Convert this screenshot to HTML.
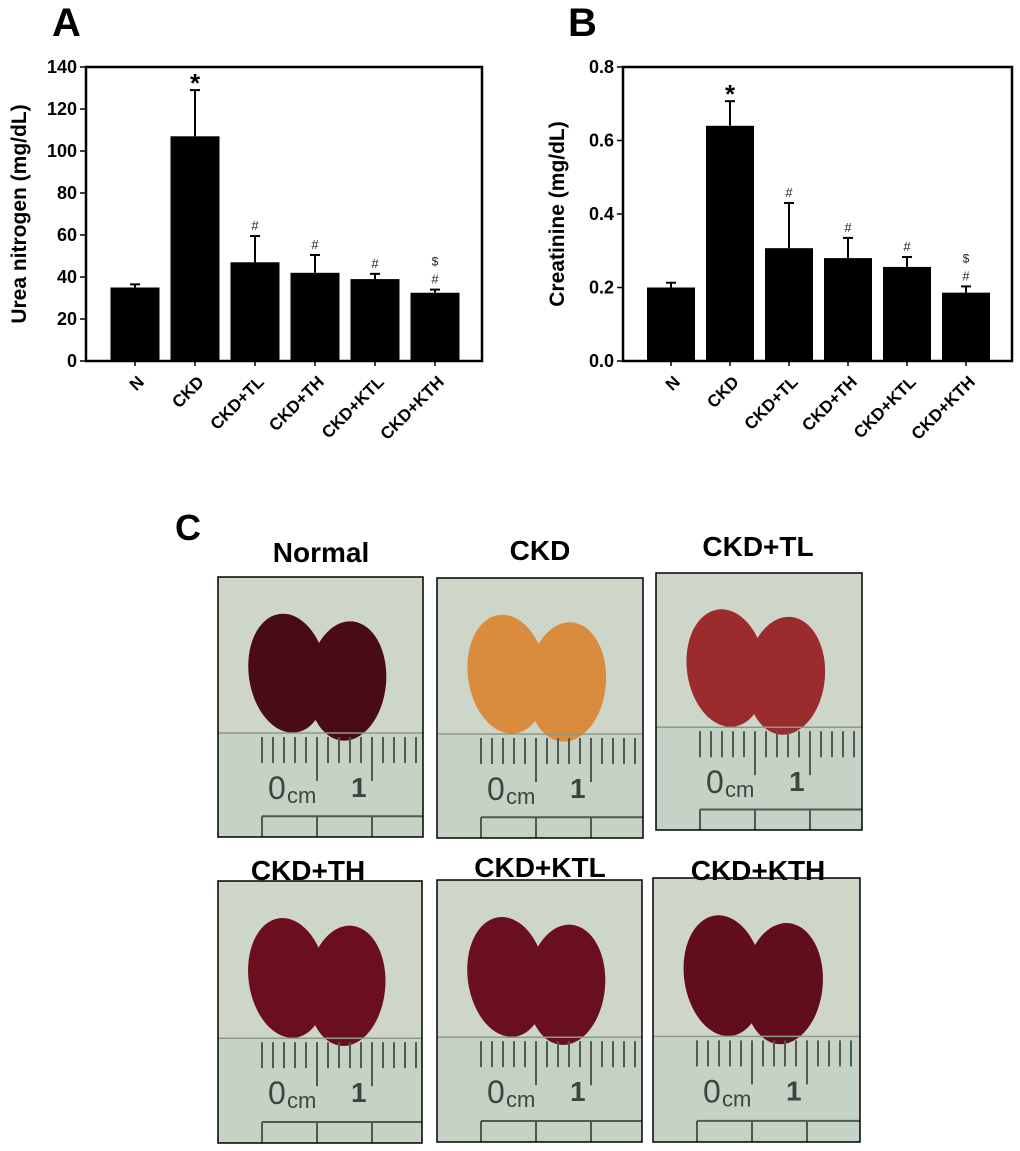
<!DOCTYPE html>
<html><head><meta charset="utf-8">
<style>
html,body{margin:0;padding:0;background:#fff;}
svg{display:block;font-family:"Liberation Sans",Arial,sans-serif;}
</style></head>
<body>
<svg id="fig" width="1020" height="1151" viewBox="0 0 1020 1151" xmlns="http://www.w3.org/2000/svg">
<rect width="1020" height="1151" fill="#fff"/>
<text x="52" y="36" font-size="40" font-weight="bold">A</text>
<text x="568" y="36" font-size="40" font-weight="bold">B</text>
<text x="175" y="540" font-size="36" font-weight="bold">C</text>
<g id="chartA"></g>
<g id="chartB"></g>
<g id="photos"></g>
</svg>
<script>
const categories = ["N","CKD","CKD+TL","CKD+TH","CKD+KTL","CKD+KTH"];
const ureaValues = [35,107,47,42,39,32.5];
const ureaErrTop = [36.5,129,59.5,50.5,41.5,34];
const ureaMarks = ["","*","#","#","#","$#"];
const ureaTicks = [0,20,40,60,80,100,120,140];
const creatValues = [0.2,0.64,0.307,0.28,0.256,0.186];
const creatErrTop = [0.213,0.707,0.43,0.335,0.283,0.203];
const creatMarks = ["","*","#","#","#","$#"];
const creatTicks = ["0.0","0.2","0.4","0.6","0.8"];
const photoTitles = ["Normal","CKD","CKD+TL","CKD+TH","CKD+KTL","CKD+KTH"];
const kidneyColors = ["#4a0b18","#d98b3e","#9c2b2e","#6b0e1e","#6a0f1f","#620d1c"];

const NS="http://www.w3.org/2000/svg";
function mk(tag,attrs,parent){const e=document.createElementNS(NS,tag);for(const k in attrs)e.setAttribute(k,attrs[k]);parent.appendChild(e);return e;}

function drawChart(g,cfg){
  const {x0,x1,y0,y1,max,values,errs,marks,ticks,title,first,step,bw}=cfg;
  const ys=v=>y0-(v/max)*(y0-y1);
  const xs=i=>first+i*step;
  values.forEach((v,i)=>{
    const ex=mk('line',{x1:xs(i),x2:xs(i),y1:ys(v),y2:ys(errs[i]),stroke:'#000','stroke-width':2},g);
    
    
    const cap=mk('line',{x1:xs(i)-5,x2:xs(i)+5,y1:ys(errs[i]),y2:ys(errs[i]),stroke:'#000','stroke-width':2},g);
    
    
    const b=mk('rect',{x:xs(i)-bw/2,y:ys(v),width:bw,height:y0-ys(v),fill:'#000'},g);
    
    
    const m=marks[i];
    if(m==="*"){const t=mk('text',{x:xs(i),y:ys(errs[i])+2,'font-size':26,'font-weight':'bold','text-anchor':'middle'},g);t.textContent='*';}
    else if(m==="#"){const t=mk('text',{x:xs(i),y:ys(errs[i])-6,'font-size':13,'text-anchor':'middle',fill:'#222'},g);t.textContent='#';}
    else if(m==="$#"){const t=mk('text',{x:xs(i),y:ys(errs[i])-6,'font-size':13,'text-anchor':'middle',fill:'#222'},g);t.textContent='#';
      const t2=mk('text',{x:xs(i),y:ys(errs[i])-24,'font-size':12,'text-anchor':'middle',fill:'#222'},g);t2.textContent='$';}
    const tk=mk('line',{x1:xs(i),x2:xs(i),y1:y0,y2:y0+5,stroke:'#000','stroke-width':1.5},g);
    
    
    const lab=mk('text',{x:0,y:0,'font-size':17,'font-weight':'bold','text-anchor':'end',transform:`translate(${xs(i)+10},${y0+22}) rotate(-45)`},g);
    lab.textContent=categories[i];
    
    
  });
  const fr=mk('rect',{x:x0,y:y1,width:x1-x0,height:y0-y1,fill:'none',stroke:'#000','stroke-width':2.5},g);
  
  
  ticks.forEach(t=>{
    const v=parseFloat(t);
    const l=mk('line',{x1:x0-6,x2:x0,y1:ys(v),y2:ys(v),stroke:'#000','stroke-width':1.5},g);
    
    
    const tx=mk('text',{x:x0-9,y:ys(v)+6,'font-size':18,'font-weight':'bold','text-anchor':'end'},g);
    tx.textContent=String(t);
    
    
  });
  const tt=mk('text',{x:0,y:0,'font-size':21,'font-weight':'bold','text-anchor':'middle',transform:`translate(${cfg.titleX},${(y0+y1)/2}) rotate(-90)`},g);
  tt.textContent=title;
  
  
}
drawChart(document.getElementById('chartA'),{x0:86,x1:482,y0:361,y1:67,max:140,values:ureaValues,errs:ureaErrTop,marks:ureaMarks,ticks:ureaTicks,title:"Urea nitrogen (mg/dL)",first:135,step:60,bw:49,titleX:26});
drawChart(document.getElementById('chartB'),{x0:623,x1:1012,y0:361,y1:67,max:0.8,values:creatValues,errs:creatErrTop,marks:creatMarks,ticks:creatTicks,title:"Creatinine (mg/dL)",first:671,step:59,bw:48,titleX:564});

const panelPos=[[218,577,205,260],[437,578,206,260],[656,573,206,257],[218,881,204,262],[437,880,205,262],[653,878,207,264]];
const titlePos=[[321,562],[540,560],[758,556],[308,880],[540,877],[758,880]];
const pg=document.getElementById('photos');
photoTitles.forEach((name,i)=>{
  const [px,py,w,h]=panelPos[i];
  const g=mk('g',{transform:`translate(${px},${py})`},pg);
  
  
  mk('rect',{x:0,y:0,width:w,height:h,fill:'#cdd6c9'},g);
  mk('rect',{x:0,y:h*0.6,width:w,height:h*0.4,fill:'#c6d2c6'},g);
  const c=kidneyColors[i];
  const k1=mk('ellipse',{cx:w*0.34,cy:h*0.37,rx:w*0.19,ry:h*0.23,fill:c,transform:`rotate(-8 ${w*0.34} ${h*0.37})`},g);
  
  
  const k2=mk('ellipse',{cx:w*0.63,cy:h*0.4,rx:w*0.19,ry:h*0.23,fill:c,transform:`rotate(5 ${w*0.63} ${h*0.4})`},g);
  
  
  const ry=h*0.6;
  mk('line',{x1:0,x2:w,y1:ry,y2:ry,stroke:'#8c9a8c','stroke-width':1.5},g);
  for(let x=44;x<w;x+=11){
    const big=(x===99||x===154);
    mk('line',{x1:x,x2:x,y1:ry+4,y2:big?ry+48:ry+30,stroke:'#4f5a50','stroke-width':2},g);
  }
  const t=mk('text',{x:50,y:ry+66,'font-size':32,fill:'#3c463d'},g);t.textContent='0';
  
  
  const t2=mk('text',{x:69,y:ry+70,'font-size':22,fill:'#3c463d'},g);t2.textContent='cm';
  
  
  const t3=mk('text',{x:133,y:ry+64,'font-size':28,'font-weight':'bold',fill:'#3c463d'},g);t3.textContent='1';
  
  
  mk('line',{x1:44,x2:w,y1:h*0.92,y2:h*0.92,stroke:'#4f5a50','stroke-width':2},g);
  [44,99,154].forEach(x=>mk('line',{x1:x,x2:x,y1:h*0.92,y2:h,stroke:'#4f5a50','stroke-width':2},g));
  mk('rect',{x:0,y:0,width:w,height:h,fill:'none',stroke:'#000','stroke-width':1.5},g);
  const tt=mk('text',{x:titlePos[i][0],y:titlePos[i][1],'font-size':28,'font-weight':'bold','text-anchor':'middle'},pg);
  tt.textContent=name;
  
  
});
</script>
</body></html>
